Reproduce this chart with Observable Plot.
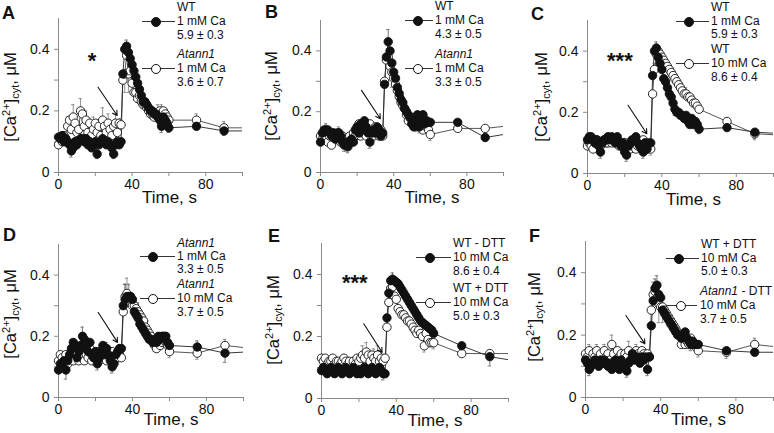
<!DOCTYPE html>
<html><head><meta charset="utf-8">
<script src="https://cdn.jsdelivr.net/npm/d3@7"></script>
<script src="https://cdn.jsdelivr.net/npm/@observablehq/plot@0.6"></script>
<style>
body{margin:0;background:#fff;font-family:"Liberation Sans",Arial,sans-serif;}
#fig{position:relative;width:774px;height:433px;overflow:hidden;background:#fff;}
#fig svg{position:absolute;overflow:visible;}
.abs{position:absolute;white-space:nowrap;color:#111;}
.letter{font-weight:bold;font-size:18px;line-height:18px;}
.ylab{font-size:16.5px;line-height:17px;transform:translate(-50%,-50%) rotate(-90deg);}
.ylab .sp{font-size:11px;vertical-align:6px;}
.ylab .sb{font-size:11px;vertical-align:-3px;}
.leg{font-size:12px;line-height:13px;}
.sym{position:absolute;border-top:1px solid #333;height:0;}
.circ{position:absolute;width:8px;height:8px;border:1px solid #111;border-radius:50%;}
</style></head><body><div id="fig"></div>
<script>
// ---- time points (s) ----
const time = [0,1,2,3,4,5,6,7,8,9,10,11,12,13,14,15,16,17,18,19,20,21,22,23,24,25,26,27,28,29,30,31,32,33,34,35,36,37,38,39,40,41,42,43,44,45,46,47,48,49,50,51,52,53,54,55,56,57,58,59,60,75,90,105];

// ---- Panel A ----
const A_wt1 = [0.115,0.11,0.12,0.10,0.11,0.10,0.09,0.07,0.08,0.10,
 0.09,0.10,0.11,0.11,0.10,0.11,0.09,0.10,0.08,0.09,
 0.10,0.06,0.09,0.10,0.11,0.10,0.09,0.10,0.09,0.08,
 0.06,0.09,0.10,0.09,0.10,0.32,0.40,0.41,0.39,0.37,
 0.35,0.33,0.31,0.29,0.27,0.25,0.23,0.23,0.22,0.21,
 0.20,0.20,0.19,0.19,0.18,0.17,0.15,0.18,0.17,0.16,
 0.145,0.15,0.135,0.135];
const A_at1 = [0.09,0.11,0.10,0.12,0.10,0.15,0.17,0.14,0.18,0.16,
 0.13,0.14,0.20,0.19,0.15,0.17,0.13,0.16,0.12,0.14,
 0.16,0.13,0.15,0.12,0.17,0.15,0.13,0.16,0.14,0.12,
 0.15,0.16,0.13,0.16,0.155,0.30,0.32,0.38,0.32,0.33,
 0.29,0.26,0.26,0.24,0.25,0.23,0.22,0.22,0.21,0.20,
 0.19,0.19,0.18,0.19,0.18,0.20,0.19,0.20,0.19,0.18,
 0.17,0.17,0.145,0.145];
const A_wt1_errT = [7,21,30,37,42,46,56,60,75,90];
const A_wt1_errV = [-0.02,-0.015,-0.015,0.02,-0.02,-0.02,-0.02,-0.015,-0.01,-0.015];
const A_at1_errT = [0,5,8,12,15,19,24,27,31,34,36,38,50,54,56,60,75,90];
const A_at1_errV = [0.02,0.03,0.04,0.04,0.03,0.04,0.04,0.03,0.03,0.02,-0.06,-0.06,0.03,0.04,0.03,0.02,0.02,0.02];

// ---- Panel B ----
const B_wt1 = [0.10,0.13,0.14,0.14,0.14,0.13,0.12,0.13,0.11,0.13,
 0.13,0.12,0.10,0.09,0.10,0.085,0.10,0.11,0.10,0.14,
 0.15,0.13,0.16,0.14,0.17,0.15,0.13,0.10,0.13,0.14,
 0.13,0.15,0.14,0.12,0.13,0.29,0.38,0.43,0.40,0.36,
 0.33,0.31,0.28,0.26,0.24,0.23,0.21,0.20,0.19,0.18,
 0.16,0.15,0.17,0.19,0.15,0.17,0.19,0.16,0.17,0.165,
 0.165,0.165,0.115,0.13];
const B_at1 = [0.12,0.11,0.13,0.12,0.10,0.12,0.09,0.13,0.12,0.11,
 0.13,0.10,0.12,0.11,0.09,0.11,0.12,0.10,0.13,0.12,
 0.14,0.16,0.12,0.13,0.15,0.12,0.14,0.16,0.13,0.12,
 0.15,0.13,0.12,0.14,0.12,0.30,0.37,0.38,0.35,0.33,
 0.31,0.29,0.27,0.25,0.23,0.22,0.21,0.19,0.17,0.18,
 0.16,0.18,0.15,0.16,0.15,0.17,0.14,0.16,0.15,0.14,
 0.125,0.145,0.145,0.155];
const B_wt1_errT = [3,13,15,27,37,40,56,60,90];
const B_wt1_errV = [0.02,-0.02,-0.02,-0.02,0.04,-0.03,-0.02,-0.02,-0.01];
const B_at1_errT = [2,6,10,14,20,24,28,33,37,39,44,49,54,60,75,90];
const B_at1_errV = [0.02,0.02,0.02,-0.02,0.02,0.02,0.02,-0.02,-0.03,-0.05,-0.02,-0.02,-0.02,-0.02,0.01,0.01];

// ---- Panel C ----
const C_wt1 = [0.11,0.12,0.12,0.11,0.10,0.11,0.09,0.07,0.10,0.11,
 0.11,0.12,0.11,0.12,0.11,0.10,0.12,0.10,0.09,0.10,
 0.07,0.06,0.09,0.10,0.11,0.11,0.12,0.10,0.09,0.08,
 0.07,0.10,0.08,0.10,0.10,0.32,0.40,0.41,0.38,0.36,
 0.34,0.31,0.30,0.28,0.26,0.25,0.23,0.21,0.20,0.20,
 0.19,0.19,0.18,0.19,0.17,0.16,0.18,0.16,0.17,0.16,
 0.145,0.15,0.135,0.13];
const C_wt10 = [0.09,0.10,0.09,0.08,0.10,0.11,0.10,0.09,0.10,0.11,
 0.10,0.10,0.11,0.10,0.11,0.10,0.11,0.09,0.10,0.09,
 0.10,0.09,0.10,0.08,0.09,0.10,0.08,0.09,0.10,0.09,
 0.11,0.10,0.08,0.09,0.08,0.26,0.34,0.39,0.40,0.39,
 0.38,0.37,0.36,0.35,0.34,0.33,0.32,0.31,0.30,0.29,
 0.28,0.27,0.26,0.26,0.25,0.25,0.24,0.23,0.23,0.22,
 0.21,0.17,0.13,0.125];
const C_wt1_errT = [7,21,30,37,47,56,60,75,90];
const C_wt1_errV = [-0.02,-0.02,-0.02,0.02,-0.02,-0.02,-0.015,-0.01,-0.02];
const C_wt10_errT = [4,8,12,16,20,24,28,32,34,36,42,47,53,57,60,75,90];
const C_wt10_errV = [0.01,0.02,0.02,0.02,0.015,0.02,0.02,0.02,-0.02,0.02,0.02,0.02,0.02,0.02,0.02,0.01,-0.02];

// ---- Panel D ----
const D_at1 = [0.09,0.11,0.10,0.12,0.09,0.12,0.14,0.16,0.18,0.17,
 0.13,0.15,0.17,0.20,0.19,0.16,0.15,0.18,0.14,0.13,
 0.15,0.11,0.13,0.15,0.17,0.14,0.16,0.14,0.12,0.10,
 0.11,0.14,0.15,0.16,0.16,0.30,0.32,0.33,0.33,0.33,
 0.32,0.28,0.27,0.26,0.24,0.23,0.22,0.21,0.20,0.19,
 0.19,0.18,0.19,0.18,0.20,0.19,0.20,0.20,0.20,0.18,
 0.17,0.165,0.145,0.15];
const D_at10 = [0.12,0.14,0.13,0.12,0.14,0.11,0.13,0.15,0.12,0.16,
 0.14,0.12,0.15,0.13,0.12,0.14,0.13,0.16,0.12,0.14,
 0.13,0.15,0.12,0.14,0.13,0.15,0.12,0.14,0.13,0.15,
 0.12,0.14,0.13,0.14,0.13,0.28,0.33,0.34,0.33,0.32,
 0.30,0.30,0.29,0.28,0.27,0.26,0.25,0.23,0.22,0.21,
 0.20,0.18,0.17,0.16,0.18,0.17,0.18,0.19,0.18,0.17,
 0.15,0.145,0.17,0.16];
const D_at1_errT = [4,7,13,21,26,29,36,38,40,51,56,75,90];
const D_at1_errV = [-0.03,0.03,0.03,-0.02,0.02,-0.02,0.05,0.04,-0.03,0.03,-0.03,0.02,-0.03];
const D_at10_errT = [0,8,12,16,20,24,28,32,36,37,43,48,52,55,60,75,90];
const D_at10_errV = [0.02,0.02,0.02,0.02,0.02,0.02,0.02,0.02,0.04,0.05,0.03,0.03,-0.02,0.03,-0.02,-0.02,0.02];

// ---- Panel E ----
const E_wtMinus = [0.09,0.10,0.09,0.08,0.09,0.10,0.09,0.08,0.09,0.10,
 0.09,0.08,0.09,0.10,0.09,0.08,0.09,0.10,0.09,0.08,
 0.09,0.08,0.09,0.10,0.09,0.08,0.09,0.10,0.09,0.08,
 0.09,0.10,0.09,0.08,0.08,0.26,0.34,0.38,0.385,0.38,
 0.375,0.37,0.36,0.35,0.34,0.33,0.32,0.31,0.30,0.29,
 0.28,0.27,0.26,0.25,0.245,0.24,0.235,0.23,0.225,0.22,
 0.21,0.17,0.135,0.12];
const E_wtPlus = [0.13,0.12,0.13,0.11,0.12,0.12,0.13,0.11,0.12,0.12,
 0.11,0.12,0.13,0.12,0.11,0.12,0.10,0.12,0.11,0.13,
 0.12,0.13,0.14,0.13,0.15,0.14,0.12,0.14,0.13,0.12,
 0.14,0.12,0.13,0.12,0.13,0.23,0.31,0.355,0.36,0.33,
 0.32,0.29,0.28,0.27,0.27,0.26,0.25,0.25,0.24,0.23,
 0.22,0.21,0.22,0.21,0.20,0.17,0.21,0.19,0.18,0.18,
 0.18,0.145,0.145,0.145];
const E_wtMinus_errT = [9,20,27,33,36,38,44,50,58,75,90];
const E_wtMinus_errV = [-0.01,-0.02,-0.01,-0.02,0.02,0.02,-0.01,-0.01,-0.01,-0.01,-0.03];
const E_wtPlus_errT = [20,22,24,26,28,30,32,35,38,45,48,53,55,60,75,90];
const E_wtPlus_errV = [0.02,0.03,0.03,0.02,0.03,0.03,0.02,0.03,0.02,0.02,-0.02,0.02,-0.02,-0.02,-0.01,-0.01];

// ---- Panel F ----
const F_wtPlus = [0.12,0.11,0.09,0.10,0.11,0.12,0.11,0.10,0.12,0.11,
 0.12,0.11,0.10,0.11,0.09,0.10,0.12,0.11,0.09,0.12,
 0.11,0.10,0.085,0.11,0.12,0.14,0.12,0.13,0.12,0.11,
 0.13,0.12,0.13,0.09,0.13,0.23,0.31,0.35,0.36,0.33,
 0.32,0.28,0.27,0.26,0.25,0.24,0.23,0.22,0.21,0.20,
 0.20,0.19,0.20,0.21,0.19,0.18,0.17,0.18,0.17,0.17,
 0.17,0.15,0.145,0.145];
const F_atMinus = [0.14,0.13,0.15,0.12,0.14,0.13,0.15,0.12,0.14,0.11,
 0.15,0.13,0.14,0.12,0.17,0.14,0.12,0.15,0.13,0.14,
 0.11,0.14,0.13,0.15,0.12,0.14,0.13,0.15,0.14,0.12,
 0.15,0.14,0.13,0.14,0.13,0.28,0.33,0.34,0.32,0.30,
 0.29,0.29,0.28,0.27,0.26,0.25,0.24,0.23,0.22,0.21,
 0.20,0.17,0.19,0.17,0.18,0.17,0.19,0.18,0.17,0.16,
 0.15,0.145,0.17,0.16];
const F_wtPlus_errT = [2,5,11,17,22,27,33,37,38,44,56,60,90];
const F_wtPlus_errV = [-0.02,-0.02,0.02,-0.02,-0.02,0.03,-0.02,0.03,0.03,-0.02,-0.02,-0.01,-0.01];
const F_atMinus_errT = [2,6,10,14,18,23,27,31,36,39,41,47,52,60,75,90];
const F_atMinus_errV = [0.02,0.02,0.02,0.03,0.02,0.03,0.02,0.02,0.04,-0.06,-0.05,0.02,-0.02,-0.02,-0.02,0.02];

// ---- annotations (data units: x1,y1,x2,y2) ----
const arrowA = [21.5,0.277,31.9,0.185];
const arrowB = [22.4,0.27,32.7,0.177];
const arrowC = [21.8,0.223,31.9,0.13];
const arrowD = [21.5,0.278,31.9,0.18];
const arrowE = [22.6,0.241,32.4,0.149];
const arrowF = [21.5,0.263,31.6,0.172];
const starsA = [18.2,0.38,"*"];
const starsC = [17.4,0.385,"***"];
const starsE = [17.8,0.39,"***"];

// ---- axis ticks ----
const xTicks = [0,20,40,60,80,100];
const xTickLabels = [0,40,80];
const yTicks = [0,0.1,0.2,0.3,0.4];
const yTickLabels = [0,0.2,0.4];

// ---- text ----
const xTitle = "Time, s";
const legA = [["WT","1 mM Ca","5.9 ± 0.3"],["Atann1","1 mM Ca","3.6 ± 0.7"]];
const legB = [["WT","1 mM Ca","4.3 ± 0.5"],["Atann1","1 mM Ca","3.3 ± 0.5"]];
const legC = [["WT","1 mM Ca","5.9 ± 0.3"],["WT","10 mM Ca","8.6 ± 0.4"]];
const legD = [["Atann1","1 mM Ca","3.3 ± 0.5"],["Atann1","10 mM Ca","3.7 ± 0.5"]];
const legE = [["WT - DTT","10 mM Ca","8.6 ± 0.4"],["WT + DTT","10 mM Ca","5.0 ± 0.3"]];
const legF = [["WT + DTT","10 mM Ca","5.0 ± 0.3"],["Atann1 - DTT","10 mM Ca","3.7 ± 0.5"]];

const panels = [
 {id:"A",left:0,top:0,w:258,h:215,m:[18,16,43,58],filled:A_wt1,open:A_at1,fe:[A_wt1_errT,A_wt1_errV],oe:[A_at1_errT,A_at1_errV],arrow:arrowA,stars:starsA,
  letter:[2,12.5],ylab:[11,97],xlab:[19,25],leg:legA,legX:[177,177],legY:[[7,21,35],[54,68,82]],sym:[[142,175,156],[142,175,156]]},
 {id:"B",left:258,top:0,w:258,h:215,m:[20,13,43,62],filled:B_wt1,open:B_at1,fe:[B_wt1_errT,B_wt1_errV],oe:[B_at1_errT,B_at1_errV],arrow:arrowB,stars:null,
  letter:[265,11.5],ylab:[272,96],xlab:[20,25],leg:legB,legX:[435,435],legY:[[6,20,34],[54,68,82]],sym:[[405,433,418],[405,433,418]]},
 {id:"C",left:516,top:0,w:258,h:215,m:[20,1,42,71],filled:C_wt1,open:C_wt10,fe:[C_wt1_errT,C_wt1_errV],oe:[C_wt10_errT,C_wt10_errV],arrow:arrowC,stars:starsC,
  letter:[531,14],ylab:[542,97],xlab:[13,26],leg:legC,legX:[711,711],legY:[[7,21,34],[49,63,77]],sym:[[676,709,689],[676,709,689]]},
 {id:"D",left:0,top:215,w:258,h:218,m:[29,15,36,58],filled:D_at1,open:D_at10,fe:[D_at1_errT,D_at1_errV],oe:[D_at10_errT,D_at10_errV],arrow:arrowD,stars:null,
  letter:[3,235],ylab:[11,314],xlab:[20,22],leg:legD,legX:[177,177],legY:[[243,256,269],[284,298,312]],sym:[[140,175,153],[140,175,153]]},
 {id:"E",left:258,top:215,w:258,h:218,m:[28,8,35,63],filled:E_wtMinus,open:E_wtPlus,fe:[E_wtMinus_errT,E_wtMinus_errV],oe:[E_wtPlus_errT,E_wtPlus_errV],arrow:arrowE,stars:starsE,
  letter:[268,236],ylab:[274,320],xlab:[20,22],leg:legE,legX:[453,453],legY:[[243,257,271],[288,302,316]],sym:[[416,451,430],[416,451,430]]},
 {id:"F",left:516,top:215,w:258,h:218,m:[26,1,36,69],filled:F_wtPlus,open:F_atMinus,fe:[F_wtPlus_errT,F_wtPlus_errV],oe:[F_atMinus_errT,F_atMinus_errV],arrow:arrowF,stars:null,
  letter:[529,236],ylab:[535,317],xlab:[19,22],leg:legF,legX:[701,700],legY:[[244,258,271],[291,305,319]],sym:[[666,699,679],[666,697,681]]}
];

const FONT = '"Liberation Sans", Arial, sans-serif';
const GRAY = "#8a8a8a";
const fig = document.getElementById("fig");

function rowsOf(vals){ return time.map((t,i)=>({t, v: vals[i]})); }
function errRows(vals, [et, ev]){ return et.map((t,k)=>{ const v = vals[time.indexOf(t)]; return {t, y1: v, y2: v + ev[k]}; }); }

for (const p of panels) {
  const rf = rowsOf(p.filled), ro = rowsOf(p.open);
  const ef = errRows(p.filled, p.fe), eo = errRows(p.open, p.oe);
  const marks = [
    Plot.ruleX([0], {y1: 0, y2: 0.5, stroke: GRAY}),
    Plot.ruleY([0], {x1: 0, x2: 100, stroke: GRAY}),
    Plot.axisY({ticks: yTicks, tickSize: 4, tickPadding: 5, stroke: GRAY, fill: "#111", fontSize: 14, label: null,
      tickFormat: d => yTickLabels.some(v => Math.abs(v - d) < 1e-9) ? (d === 0 ? "0" : d.toFixed(1)) : ""}),
    Plot.axisX({ticks: xTicks, tickSize: 4, tickPadding: 3, stroke: GRAY, fill: "#111", fontSize: 14, label: null,
      tickFormat: d => xTickLabels.includes(d) ? String(d) : ""}),
    Plot.line(ro, {x: "t", y: "v", stroke: "#444", strokeWidth: 0.9, clip: true}),
    Plot.line(rf, {x: "t", y: "v", stroke: "#222", strokeWidth: 0.9, clip: true}),
    Plot.ruleX(eo, {x: "t", y1: "y1", y2: "y2", stroke: "#777", strokeWidth: 0.8}),
    Plot.ruleY(eo, {y: "y2", x1: d => d.t - 0.9, x2: d => d.t + 0.9, stroke: "#777", strokeWidth: 0.8}),
    Plot.ruleX(ef, {x: "t", y1: "y1", y2: "y2", stroke: "#555", strokeWidth: 0.8}),
    Plot.ruleY(ef, {y: "y2", x1: d => d.t - 0.9, x2: d => d.t + 0.9, stroke: "#555", strokeWidth: 0.8}),
    Plot.dot(ro.filter(d => d.t <= 100), {x: "t", y: "v", r: 4.2, fill: "white", stroke: "#111", strokeWidth: 0.9}),
    Plot.dot(rf.filter(d => d.t <= 100), {x: "t", y: "v", r: 4.2, fill: "#111", stroke: "#111", strokeWidth: 0.9}),
    Plot.arrow([p.arrow], {x1: d => d[0], y1: d => d[1], x2: d => d[2], y2: d => d[3], stroke: "#111", strokeWidth: 1.1, headLength: 7, bend: 0}),
    Plot.text([xTitle], {text: d => d, frameAnchor: "bottom", lineAnchor: "middle", dx: p.xlab[0], dy: p.xlab[1], fontSize: 17, fill: "#111"})
  ];
  if (p.stars) marks.push(Plot.text([p.stars], {x: d => d[0], y: d => d[1], text: d => d[2], fontSize: 22, fontWeight: "bold", dy: 5, fill: "#111"}));
  const svg = Plot.plot({
    width: p.w, height: p.h,
    marginTop: p.m[0], marginRight: p.m[1], marginBottom: p.m[2], marginLeft: p.m[3],
    x: {domain: [0, 100], axis: null}, y: {domain: [0, 0.5], axis: null},
    style: {fontFamily: FONT, fontSize: "14px", background: "transparent", color: "#111"},
    marks
  });
  svg.style.left = p.left + "px"; svg.style.top = p.top + "px";
  fig.appendChild(svg);

  const L = document.createElement("div");
  L.className = "abs letter"; L.textContent = p.id;
  L.style.left = p.letter[0] + "px"; L.style.top = (p.letter[1] - 0.49 * 18) + "px";
  fig.appendChild(L);
  const Y = document.createElement("div");
  Y.className = "abs ylab";
  Y.innerHTML = '[Ca<span class="sp">2+</span>]<span class="sb">cyt</span>, μM';
  Y.style.left = p.ylab[0] + "px"; Y.style.top = p.ylab[1] + "px";
  fig.appendChild(Y);
  p.leg.forEach((lines, g) => {
    lines.forEach((s, k) => {
      const d = document.createElement("div");
      d.className = "abs leg";
      d.innerHTML = s.replace("Atann1", "<i>Atann1</i>");
      d.style.left = p.legX[g] + "px"; d.style.top = (p.legY[g][k] - 0.49 * 12) + "px";
      fig.appendChild(d);
    });
    const [x1, x2, cx] = p.sym[g]; const yy = p.legY[g][1];
    const ln = document.createElement("div");
    ln.className = "sym"; ln.style.left = x1 + "px"; ln.style.width = (x2 - x1) + "px"; ln.style.top = yy + "px";
    fig.appendChild(ln);
    const c = document.createElement("div");
    c.className = "circ"; c.style.left = (cx - 5) + "px"; c.style.top = (yy - 4.5) + "px";
    c.style.background = g === 0 ? "#111" : "#fff";
    fig.appendChild(c);
  });
}
</script></body></html>
